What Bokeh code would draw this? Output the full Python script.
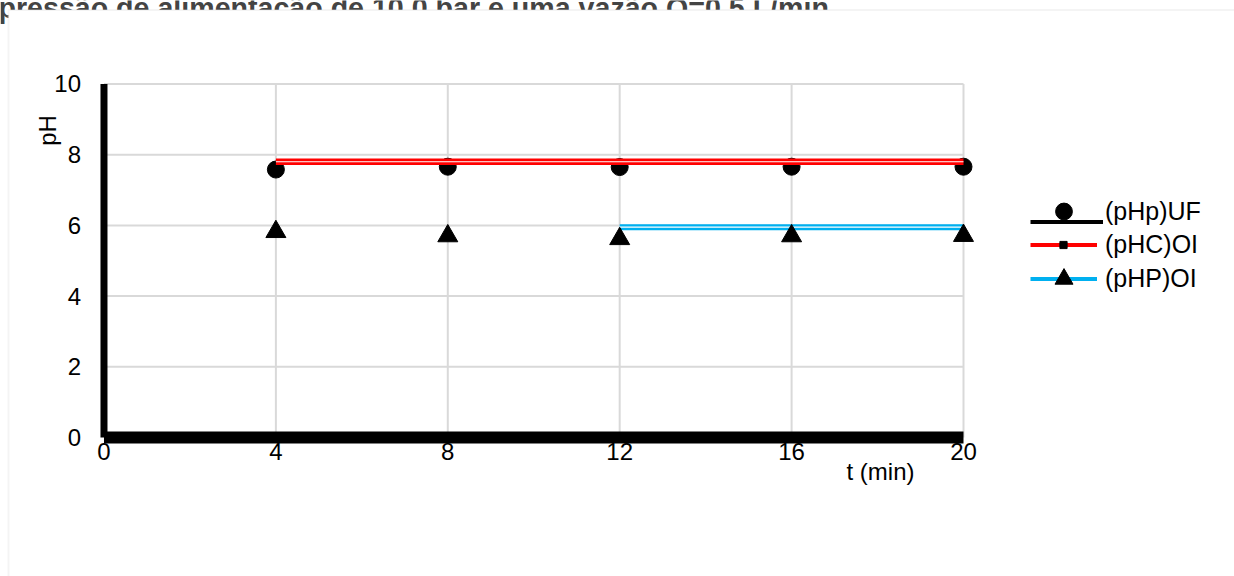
import math
from bokeh.plotting import figure
from bokeh.models import Range1d, Label, Legend, LegendItem, BoxAnnotation
from bokeh.embed import file_html
from bokeh.resources import INLINE

# ---------------- data ----------------
title_text = "pressão de alimentação de 10,0 bar e uma vazão Q=0,5 L/min"
x_label = "t (min)"
y_label = "pH"
x_ticks = [0, 4, 8, 12, 16, 20]
y_ticks = [0, 2, 4, 6, 8, 10]
x_tick_labels = ["0", "4", "8", "12", "16", "20"]
y_tick_labels = ["0", "2", "4", "6", "8", "10"]

t = [4, 8, 12, 16, 20]
ph_uf = [7.58, 7.66, 7.65, 7.66, 7.66]          # (pHp)UF  - circles
ph_c_oi = [7.80, 7.80, 7.80, 7.80, 7.80]        # (pHC)OI  - red line
ph_p_oi = [5.82, 5.70, 5.62, 5.70, 5.71]        # (pHP)OI  - triangles
t_p_oi_line = [12, 16, 20]
ph_p_oi_line = [5.95, 5.95, 5.95]               # (pHP)OI  - blue line

series_labels = ["(pHp)UF", "(pHC)OI", "(pHP)OI"]

FONT = "Liberation Sans"
GRID = "#d9d9d9"
RED = "#ff0000"
BLUE = "#00b0f0"
NAN = float("nan")

W, H = 1234, 576
p = figure(width=W, height=H, output_backend="svg", toolbar_location=None,
           x_axis_type=None, y_axis_type=None,
           x_range=Range1d(-2.408, 26.306), y_range=Range1d(-3.932, 12.362),
           min_border=0)
p.xgrid.visible = False
p.ygrid.visible = False
p.outline_line_color = None

# clipped title, partly hidden behind the chart-area box (as in the reference)
p.add_layout(Label(x=-2, y=H - 7, x_units="screen", y_units="screen", text=title_text,
                   text_font=FONT, text_font_size="28.6px", text_font_style="bold",
                   text_baseline="alphabetic", text_align="left", level="image"))
p.add_layout(BoxAnnotation(left=8, right=3000, top=H - 9.5, bottom=-1000,
                           left_units="screen", right_units="screen",
                           top_units="screen", bottom_units="screen",
                           fill_color="white", fill_alpha=1.0,
                           line_color=GRID, line_width=2, level="underlay"))

# grid lines
nx = len(x_ticks) - 1
ny = len(y_ticks) - 1
p.segment(x0=x_ticks[1:], y0=[y_ticks[0]] * nx, x1=x_ticks[1:], y1=[y_ticks[-1]] * nx,
          line_color=GRID, line_width=2)
p.segment(x0=[x_ticks[0]] * ny, y0=y_ticks[1:], x1=[x_ticks[-1]] * ny, y1=y_ticks[1:],
          line_color=GRID, line_width=2)

# heavy black axis lines
p.segment(x0=[x_ticks[0]], y0=[y_ticks[0]], x1=[x_ticks[0]], y1=[y_ticks[-1]],
          line_color="black", line_width=7, line_cap="butt")
p.segment(x0=[x_ticks[0]], y0=[y_ticks[0]], x1=[x_ticks[-1]], y1=[y_ticks[0]],
          line_color="black", line_width=12, line_cap="butt")

# tick labels
p.text(x=x_ticks, y=[y_ticks[0]] * len(x_ticks), text=x_tick_labels,
       y_offset=14, text_align="center", text_baseline="middle",
       text_font={"value": FONT}, text_font_size={"value": "24px"}, text_color="black")
p.text(x=[x_ticks[0]] * len(y_ticks), y=y_ticks, text=y_tick_labels,
       x_offset=-23, text_align="right", text_baseline="middle",
       text_font={"value": FONT}, text_font_size={"value": "24px"}, text_color="black")

# series
r_uf = p.scatter(t, ph_uf, marker="circle", size=17, color="black")
p.line(t, ph_c_oi, line_color=RED, line_width=6.5)
p.line(t, ph_c_oi, line_color="white", line_width=1.2)
p.line(t_p_oi_line, ph_p_oi_line, line_color=BLUE, line_width=6)
p.line(t_p_oi_line, ph_p_oi_line, line_color="white", line_width=1.2)
r_p = p.scatter(t, ph_p_oi, marker="triangle", size=20, color="black")

# legend proxies (non-drawing points)
lg_uf = p.line([NAN], [NAN], line_color="black", line_width=4)
lg_c = p.line([NAN], [NAN], line_color=RED, line_width=4)
lg_cm = p.scatter([NAN], [NAN], marker="square", size=7, color="black")
lg_p = p.line([NAN], [NAN], line_color=BLUE, line_width=4)


def add_legend(label, renderers, left, center_y, gw, gh, standoff):
    lg = Legend(items=[LegendItem(label=label, renderers=renderers)],
                location=(left, H - (center_y + gh / 2.0)))
    lg.glyph_width = gw
    lg.glyph_height = gh
    lg.label_height = gh
    lg.label_standoff = standoff
    lg.spacing = 0
    lg.padding = 0
    lg.margin = 0
    lg.border_line_color = None
    lg.background_fill_alpha = 0
    lg.label_text_font = FONT
    lg.label_text_font_size = "25px"
    lg.label_text_color = "black"
    lg.label_text_baseline = "middle"
    p.add_layout(lg)


add_legend(" ", [lg_uf], 1030, 221, 73, 35, 2)
add_legend(series_labels[0], [r_uf], 1030, 211, 67, 42, 8)
add_legend(series_labels[1], [lg_c], 1030, 244.5, 67, 35, 8)
add_legend(" ", [lg_cm], 1054, 244.5, 18, 35, 2)
add_legend(series_labels[2], [lg_p, r_p], 1030, 278.5, 67, 45, 8)

# axis titles
p.add_layout(Label(x=47, y=H - 130, x_units="screen", y_units="screen", text=y_label,
                   angle=math.pi / 2, text_align="center", text_baseline="middle",
                   text_font=FONT, text_font_size="24px", text_color="black"))
p.add_layout(Label(x=880, y=H - 471, x_units="screen", y_units="screen", text=x_label,
                   text_align="center", text_baseline="middle",
                   text_font=FONT, text_font_size="24px", text_color="black"))

open("out.html", "w").write(file_html(p, INLINE))
